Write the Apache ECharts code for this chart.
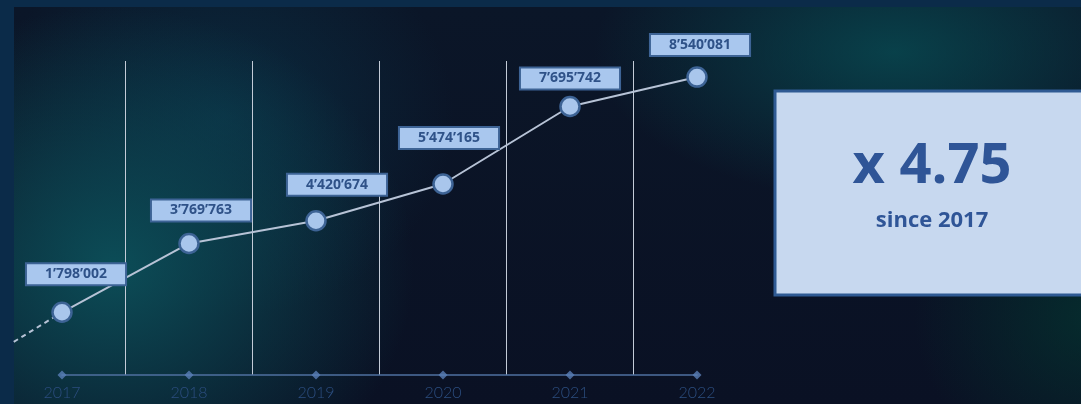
<!DOCTYPE html>
<html>
<head>
<meta charset="utf-8">
<script src="https://cdn.jsdelivr.net/npm/echarts@6/dist/echarts.min.js"></script>
<style>
  html, body { margin: 0; padding: 0; width: 1081px; height: 404px; overflow: hidden; background: #0b2b49; }
  #bg {
    position: absolute; left: 14px; top: 7px; right: 0; bottom: 0;
    background:
      radial-gradient(ellipse 300px 260px at 100px 260px, rgba(12, 80, 90, 0.95), rgba(12, 80, 90, 0)),
      radial-gradient(ellipse 230px 200px at 210px 110px, rgba(10, 58, 80, 0.6), rgba(10, 58, 80, 0)),
      radial-gradient(ellipse 300px 150px at 880px 45px, rgba(8, 72, 80, 0.85), rgba(8, 72, 80, 0)),
      radial-gradient(ellipse 180px 160px at 1080px 310px, rgba(4, 52, 48, 0.75), rgba(4, 52, 48, 0)),
      linear-gradient(#0b1628, #0a1124);
  }
  #chart { position: absolute; left: 0; top: 0; width: 1081px; height: 404px; }
</style>
</head>
<body>
<div id="bg"></div>
<div id="chart"></div>
<script>
// categories and values
var years = ['2017', '2018', '2019', '2020', '2021', '2022']
var values = [1798002, 3769763, 4420674, 5474165, 7695742, 8540081]
// dashed lead-in before 2017 (estimated)
var leadInX = -0.38
var leadInValue = 950000

// label box offsets from each point (layout only)
var labelOffsets = [[14, -38], [12, -33], [21, -36], [6, -46], [0, -28], [3, -32]]

function fmt (v) {
  return String(v).replace(/\B(?=(\d{3})+(?!\d))/g, '\u2019')
}

var chart = echarts.init(document.getElementById('chart'))
var ratio = (values[values.length - 1] / values[0]).toFixed(2)

// px per category step, used to place the lead-in grid
var plotLeft = 62
var plotRight = 384
var step = (1081 - plotLeft - plotRight) / (years.length - 1)

chart.setOption({
  animation: false,
  backgroundColor: 'transparent',
  grid: [
    { left: plotLeft, right: plotRight, top: 61, bottom: 29 },
    { left: plotLeft + leadInX * step, right: plotRight, top: 61, bottom: 29 }
  ],
  xAxis: [
    {
      type: 'value',
      gridIndex: 0,
      min: 0,
      max: years.length - 1,
      interval: 1,
      axisLine: { show: true, lineStyle: { color: '#4f70a0', width: 1.5 } },
      axisTick: { show: false },
      splitLine: { show: false },
      minorTick: { show: false, splitNumber: 2 },
      minorSplitLine: { show: true, lineStyle: { color: '#c3cbd7', width: 1 } },
      axisLabel: {
        margin: 10,
        color: '#2c4e80',
        fontFamily: 'Lato',
        fontWeight: 300,
        fontSize: 16,
        formatter: function (v) { return years[v] || '' }
      }
    },
    {
      type: 'value',
      gridIndex: 1,
      min: leadInX,
      max: years.length - 1,
      show: false
    }
  ],
  yAxis: [
    { type: 'value', gridIndex: 0, min: 0, max: 9000000, show: false },
    { type: 'value', gridIndex: 1, min: 0, max: 9000000, show: false }
  ],
  series: [
    {
      type: 'line',
      xAxisIndex: 1,
      yAxisIndex: 1,
      data: [[leadInX, leadInValue], [0, values[0]]],
      symbol: 'none',
      lineStyle: { color: '#b7c3d6', width: 2, type: [5, 4] },
      z: 2
    },
    {
      type: 'scatter',
      data: years.map(function (y, i) { return [i, 0] }),
      symbol: 'diamond',
      symbolSize: [9, 9],
      clip: false,
      itemStyle: { color: '#5a80b8' },
      z: 3
    },
    {
      type: 'line',
      data: values.map(function (v, i) {
        return {
          value: [i, v],
          label: { offset: labelOffsets[i] }
        }
      }),
      symbol: 'circle',
      symbolSize: 19,
      clip: false,
      lineStyle: { color: '#b7c3d6', width: 2 },
      itemStyle: { color: '#a9c6ec', borderColor: '#3d6395', borderWidth: 2.5 },
      label: {
        show: true,
        position: 'inside',
        formatter: function (p) { return fmt(p.value[1]) },
        fontFamily: 'Open Sans',
        fontWeight: 'bold',
        fontSize: 14,
        lineHeight: 16,
        color: '#2f5288',
        backgroundColor: '#a9c7ee',
        borderColor: '#3d6395',
        borderWidth: 2,
        padding: [2, 18]
      },
      z: 5
    }
  ],
  graphic: [
    {
      type: 'rect',
      shape: { x: 775, y: 91, width: 330, height: 204 },
      style: { fill: '#c7d8ef', stroke: '#2f5a93', lineWidth: 3 }
    },
    {
      type: 'text',
      x: 932,
      y: 167,
      style: {
        text: 'x ' + ratio,
        fill: '#2f5597',
        font: 'bold 56px "Open Sans"',
        textAlign: 'center',
        textVerticalAlign: 'middle'
      }
    },
    {
      type: 'text',
      x: 932,
      y: 221,
      style: {
        text: 'since ' + years[0],
        fill: '#2f5597',
        font: 'bold 22px "Open Sans"',
        textAlign: 'center',
        textVerticalAlign: 'middle'
      }
    }
  ]
})
</script>
</body>
</html>
